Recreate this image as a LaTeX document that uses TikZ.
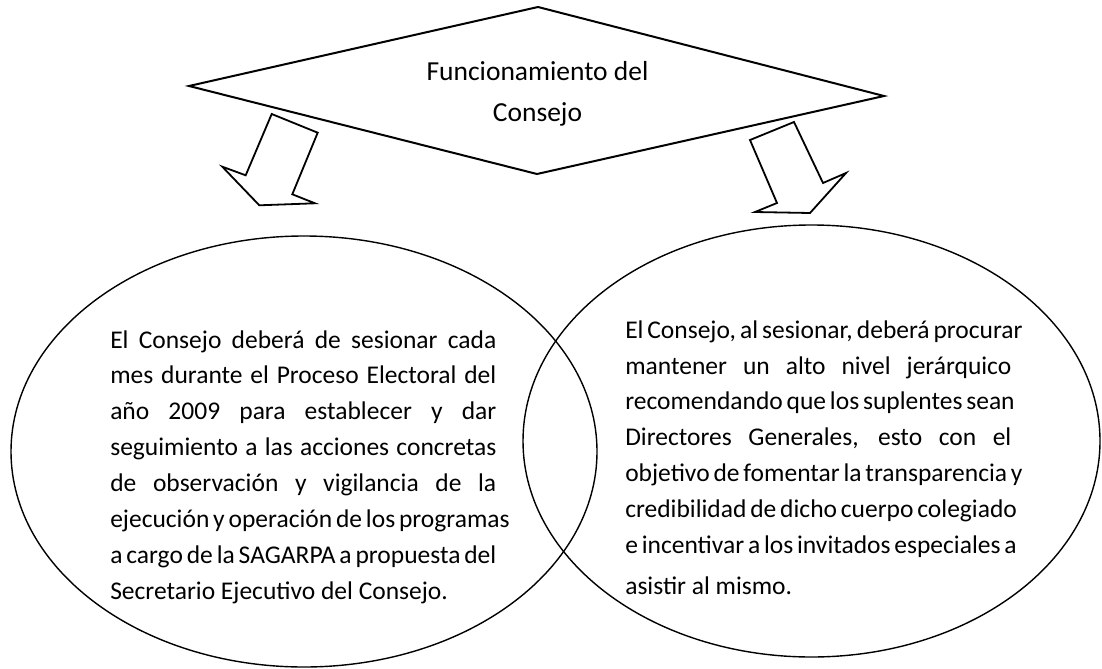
\documentclass[tikz,border=0pt]{standalone}
\usepackage{fontspec}
\setmainfont{Carlito}
\usetikzlibrary{shapes.geometric}
\newcommand{\colwidth}{9.650000cm}
\newcommand{\fullline}[1]{\makebox[\colwidth][s]{#1}}
\begin{document}
\begin{tikzpicture}
        \useasboundingbox (0.000000,0.000000) rectangle (27.550000,16.700000);
        {\fontsize{18.14}{25.50}\selectfont
        
        % Marking corners of the title diamond
        \coordinate (dtop) at (13.450000,16.525000);%
        \coordinate (dright) at (22.100000,14.300000);%
        \coordinate (dbottom) at (13.425000,12.350000);%
        \coordinate (dleft) at (4.725000,14.550000);%
        
        % Drawing title diamond
        \draw [line width=0.050cm] (dtop) -- (dright) -- (dbottom) -- (dleft) -- cycle;%
        \node (title) [align=center, anchor=base, inner sep=0pt, font=\fontsize{19.56}{29.87}\selectfont] at (13.437500,13.650000) {Funcionamiento del\\Consejo};%
        
        % Drawing left block arrow
        \draw [line width=0.045cm] (6.792500,13.850000) -- (7.942500,13.382500) -- (7.307500,11.842500) -- (7.875000,11.617500) -- (6.482500,11.567500) -- (5.557500,12.532500) -- (6.142500,12.317500) -- cycle;%
        
        % Drawing right block arrow
        \draw [line width=0.045cm] (18.750000,13.200000) -- (19.850000,13.650000) -- (20.575000,12.125000) -- (21.150000,12.375000) -- (20.250000,11.375000) -- (18.875000,11.400000) -- (19.425000,11.625000) -- cycle;%
        
        % Drawing left ellipse
        \node (leftoval) [draw, ellipse, line width=0.035cm, inner sep=0pt, minimum width=14.650000cm, minimum height=10.775000cm] at (7.600000,5.412500) {};%
        
        % Drawing right ellipse
        \node (rightoval) [draw, ellipse, line width=0.035cm, inner sep=0pt, minimum width=14.425000cm, minimum height=10.800000cm] at (20.287500,5.675000) {};%
        
        % Text of left ellipse
        \node (lefttext) [align=left, anchor=base west, inner sep=0pt] at (2.750000,1.725000) {%
        \fullline{El Consejo deberá de sesionar cada}\\
        \fullline{mes durante el Proceso Electoral del}\\
        \fullline{año 2009 para establecer y dar}\\
        \fullline{seguimiento a las acciones concretas}\\
        \fullline{de observación y vigilancia de la}\\
        \fullline{ejecución y operación de los programas}\\
        \fullline{a cargo de la SAGARPA a propuesta del}\\
        Secretario Ejecutivo del Consejo.};%
        
        % Text of right ellipse
        \node (righttext) [align=left, anchor=base west, inner sep=0pt] at (15.625000,1.850000) {%
        \fullline{El Consejo, al sesionar, deberá procurar}\\
        \fullline{mantener un alto nivel jerárquico}\\
        \fullline{recomendando que los suplentes sean}\\
        \fullline{Directores Generales, esto con el}\\
        \fullline{objetivo de fomentar la transparencia y}\\
        \fullline{credibilidad de dicho cuerpo colegiado}\\
        \fullline{e incentivar a los invitados especiales a}\\[0.12cm]
        asistir al mismo.};%
        }
\end{tikzpicture}
\end{document}
